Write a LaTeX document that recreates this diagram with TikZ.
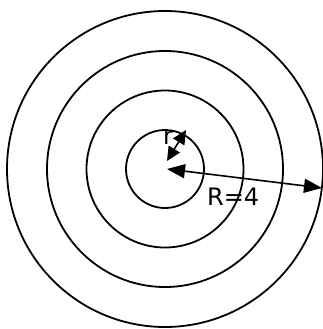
\documentclass[tikz,border=0pt]{standalone}
\usepackage{fontspec}
\setmainfont{DejaVu Sans}
\usetikzlibrary{arrows.meta}

\begin{document}
\begin{tikzpicture}[x=1pt, y=-1pt,
    ring/.style={line width=1.8pt},
    radius line/.style={line width=1.6pt, {Triangle[length=18pt,width=14pt]}-{Triangle[length=18pt,width=14pt]}},
    short radius/.style={line width=1.6pt, {Triangle[length=14pt,width=13pt]}-{Triangle[length=14pt,width=13pt]}},
    lbl/.style={font=\fontsize{24}{28}\selectfont, inner sep=0pt}]
  \useasboundingbox (0,0) rectangle (323,329);
  \coordinate (c) at (165,169);
  \foreach \rr in {39, 78.5, 118, 158} {
    \draw[ring] (c) circle[radius=\rr];
  }
  % radius arrows
  \coordinate (Rin) at (167,169);
  \coordinate (Rout) at (322,188);
  \coordinate (rin) at (167,161);
  \coordinate (rout) at (186,130);
  \draw[radius line] (Rin) -- (Rout);
  \draw[short radius] (rin) -- (rout);
  \node[lbl, anchor=base west] (Rlabel) at (207,205) {R=4};
  \node[lbl, anchor=base west] (rlabel) at (163,144) {r};
\end{tikzpicture}
\end{document}
